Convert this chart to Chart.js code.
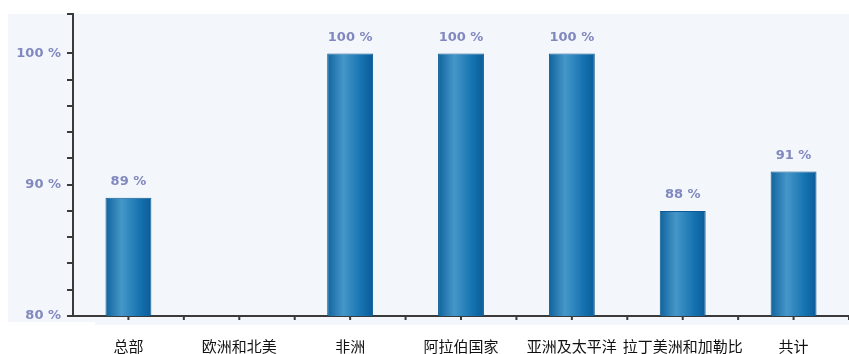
<!DOCTYPE html>
<html>
<head>
<meta charset="utf-8">
<script src="https://cdn.jsdelivr.net/npm/chart.js@4.4.0/dist/chart.umd.min.js"></script>
<style>
  html, body { margin: 0; padding: 0; background: #fff; overflow: hidden; }
  #wrap { width: 849px; height: 354px; position: relative; }
</style>
</head>
<body>
<div id="wrap"><canvas id="chart"></canvas></div>
<script>
var categories = ["总部", "欧洲和北美", "非洲", "阿拉伯国家", "亚洲及太平洋", "拉丁美洲和加勒比", "共计"];
var values = [89, null, 100, 100, 100, 88, 91];
var yMajorTicks = [80, 90, 100];

var labelColor = "#8088bf";
var axisColor = "#3a3a3a";
var numFont = "'DejaVu Sans', sans-serif";

// light panel behind the plot, white strip under the category labels
var panelPlugin = {
  id: "panel",
  beforeDraw: function(chart) {
    var c = chart.ctx;
    c.save();
    c.fillStyle = "#f3f6fa";
    c.fillRect(8, 14, chart.width - 8, 311);
    c.fillStyle = "#ffffff";
    c.fillRect(0, 322, 95, chart.height - 322);
    c.restore();
  }
};

// tick marks on the x axis: at each category centre and between them
var xTicksPlugin = {
  id: "xticks",
  afterDraw: function(chart) {
    var xs = chart.scales.x;
    var y = chart.chartArea.bottom;
    var c = chart.ctx;
    c.save();
    c.strokeStyle = axisColor;
    c.lineWidth = 2;
    var half = (xs.getPixelForValue(1) - xs.getPixelForValue(0)) / 2;
    for (var i = 0; i < categories.length; i++) {
      var cx = xs.getPixelForValue(i);
      [cx, cx + half].forEach(function(px) {
        c.beginPath();
        c.moveTo(px, y);
        c.lineTo(px, y + 4);
        c.stroke();
      });
    }
    c.restore();
  }
};

// value labels on top of the bars
var valuePlugin = {
  id: "values",
  afterDatasetsDraw: function(chart) {
    var meta = chart.getDatasetMeta(0);
    var c = chart.ctx;
    c.save();
    c.font = "bold 13px " + numFont;
    c.fillStyle = labelColor;
    c.textAlign = "center";
    c.textBaseline = "middle";
    meta.data.forEach(function(bar, i) {
      if (values[i] == null) return;
      c.fillText(values[i] + " %", bar.x, bar.y - 16);
    });
    c.restore();
  }
};

var ctx = document.getElementById("chart").getContext("2d");
var chart = new Chart(ctx, {
  type: "bar",
  data: {
    labels: categories,
    datasets: [{
      data: values,
      backgroundColor: function(c) {
        var ch = c.chart;
        var xs = ch.scales.x;
        if (!xs || !ch.chartArea || c.dataIndex == null) return "#1f78b4";
        var cx = xs.getPixelForValue(c.dataIndex);
        var g = ch.ctx.createLinearGradient(cx - 23, 0, cx + 23, 0);
        g.addColorStop(0, "#10629d");
        g.addColorStop(0.35, "#4597c9");
        g.addColorStop(0.75, "#1572b0");
        g.addColorStop(1, "#0a5b98");
        return g;
      },
      borderColor: "#0e5a92",
      borderWidth: 1,
      borderSkipped: "bottom",
      barPercentage: 0.414,
      categoryPercentage: 1
    }]
  },
  options: {
    responsive: true,
    maintainAspectRatio: false,
    animation: false,
    layout: { padding: { top: 14, right: 0, left: 0, bottom: 0 } },
    plugins: {
      legend: { display: false },
      tooltip: { enabled: false }
    },
    scales: {
      y: {
        min: 80,
        max: 103,
        afterFit: function(scale) { scale.width = 73; },
        border: { display: true, color: axisColor, width: 2 },
        grid: {
          drawOnChartArea: false,
          drawTicks: true,
          tickLength: 6,
          color: axisColor,
          lineWidth: 2
        },
        ticks: {
          stepSize: 2,
          padding: 6,
          color: labelColor,
          font: { size: 13, weight: "bold", family: numFont },
          callback: function(v) {
            return yMajorTicks.indexOf(v) >= 0 ? v + " %" : "";
          }
        }
      },
      x: {
        afterFit: function(scale) { scale.height = 38; },
        border: { display: true, color: axisColor, width: 2 },
        grid: { display: false },
        ticks: {
          padding: 13,
          color: "#111",
          maxRotation: 0,
          autoSkip: false,
          font: { size: 15, family: "'Noto Sans CJK SC', sans-serif" }
        }
      }
    }
  },
  plugins: [panelPlugin, xTicksPlugin, valuePlugin]
});
</script>
</body>
</html>
